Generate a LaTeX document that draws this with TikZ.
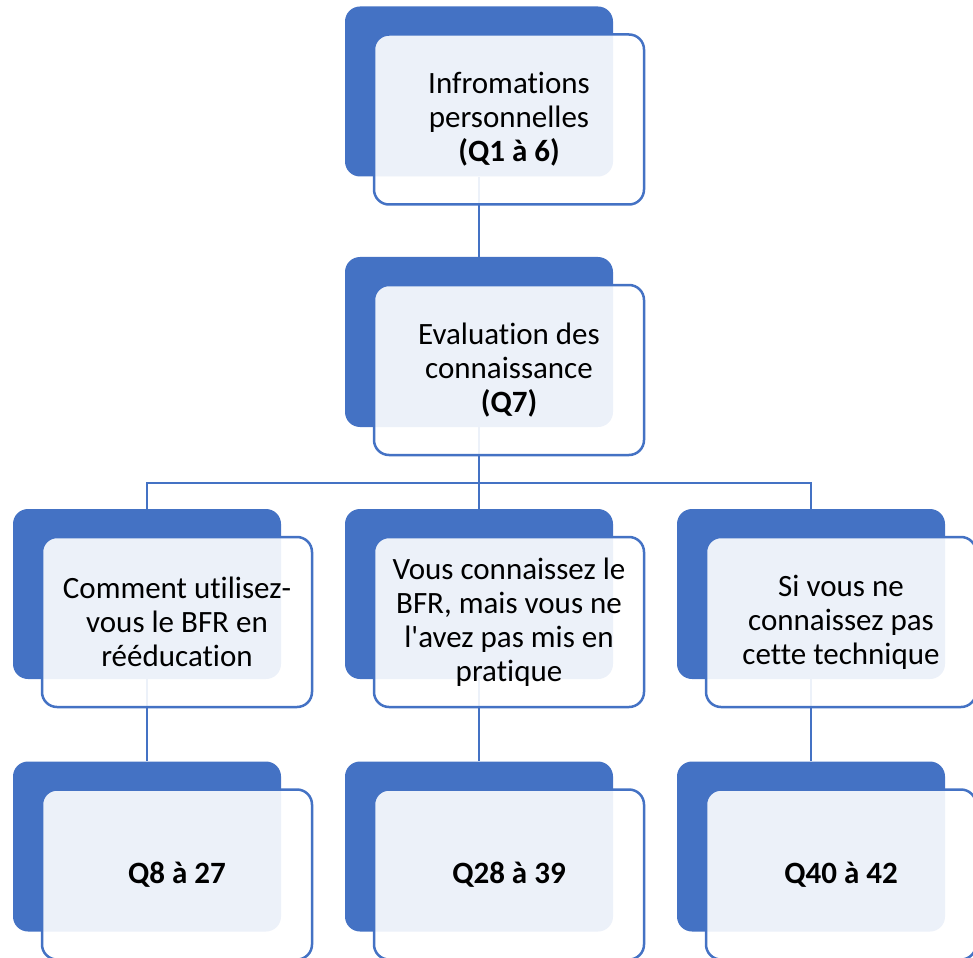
\documentclass[tikz,border=0pt]{standalone}
\usepackage{fontspec}
\setmainfont{Carlito}[Ligatures=NoCommon, RawFeature={-clig;-calt;-dlig}]
\usetikzlibrary{backgrounds}
\definecolor{smartblue}{HTML}{4472C4}
\tikzset{
  backbox/.style={fill=smartblue, rounded corners=15pt, inner sep=0pt,
    minimum width=268pt, minimum height=170pt},
  frontbox/.style={draw=smartblue, line width=2.5pt, fill=white, fill opacity=0.9,
    text opacity=1, rounded corners=15pt, align=center, xshift=30pt, yshift=-28pt,
    minimum width=270pt, minimum height=170pt, font=\fontsize{31}{34}\selectfont},
  link/.style={draw=smartblue, line width=2.5pt}
}
\begin{document}
\begin{tikzpicture}
\useasboundingbox (0,0) rectangle (973pt,-957pt);
\node[backbox] (info) at (479pt,-91.5pt) {};
\node[backbox] (eval) at (479pt,-342pt) {};
\foreach \nm/\x in {comm/147, conn/479, sivous/811}{
  \node[backbox] (\nm) at (\x pt,-594pt) {};
  \node[backbox] (q\nm) at (\x pt,-846.5pt) {};
}
\coordinate (fork) at (479pt,-483pt);
\begin{pgfonlayer}{background}
  \draw[link] (info) -- (eval);
  \draw[link] (eval) -- (fork) -- (conn);
  \draw[link] (comm.north) |- (fork) -| (sivous.north);
  \foreach \nm in {comm, conn, sivous}
    \draw[link] (\nm) -- (q\nm);
\end{pgfonlayer}

\node[frontbox] (infoF) at (info) {Infromations\\personnelles\\\textbf{(Q1 à 6)}};
\node[frontbox] (evalF) at (eval) {Evaluation des\\connaissance\\\textbf{(Q7)}};
\node[frontbox] (commF) at (comm) {Comment utilisez-\\vous le BFR en\\rééducation};
\node[frontbox] (connF) at (conn) {Vous connaissez le\\BFR, mais vous ne\\l\textquotesingle avez pas mis en\\pratique};
\node[frontbox] (sivousF) at (sivous) {Si vous ne\\connaissez pas\\cette technique};
\node[frontbox] (qcommF) at (qcomm) {\textbf{Q8 à 27}};
\node[frontbox] (qconnF) at (qconn) {\textbf{Q28 à 39}};
\node[frontbox] (qsivousF) at (qsivous) {\textbf{Q40 à 42}};
\end{tikzpicture}
\end{document}
